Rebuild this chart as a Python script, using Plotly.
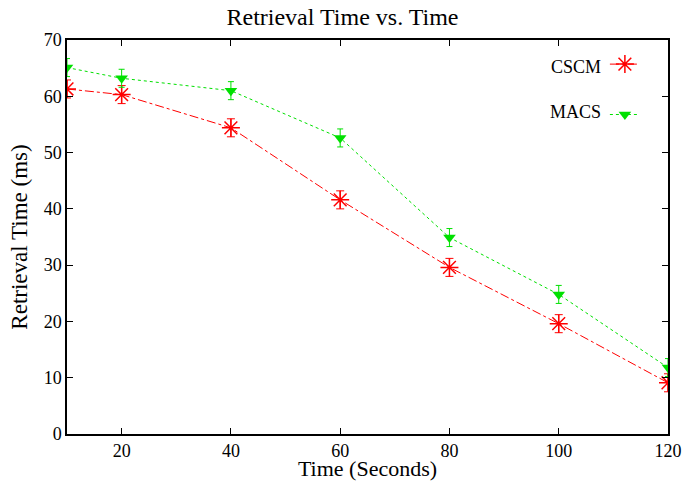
import plotly.graph_objects as go

x_seconds = [10, 20, 40, 60, 80, 100, 120]
cscm_ms = [61.3, 60.3, 54.4, 41.6, 29.6, 19.6, 9.1]
cscm_err = [1.6, 1.6, 1.6, 1.6, 1.6, 1.6, 1.6]
macs_ms = [65.1, 63.2, 61.0, 52.6, 34.9, 24.8, 11.8]
macs_err = [1.6, 1.6, 1.6, 1.6, 1.6, 1.6, 1.6]
x_ticks = [20, 40, 60, 80, 100, 120]
y_ticks = [0, 10, 20, 30, 40, 50, 60, 70]

FONT = "Liberation Serif"
RED = "#ff0000"
GREEN = "#00e000"

fig = go.Figure()
fig.add_trace(go.Scatter(
    x=x_seconds, y=cscm_ms, name="", legendgroup="a", mode="lines+markers",
    line=dict(color=RED, width=1, dash="dashdot"),
    marker=dict(symbol="asterisk-open", size=15, color=RED, line=dict(color=RED, width=1.5)),
    error_y=dict(type="data", array=cscm_err, color=RED, thickness=1, width=4),
))
fig.add_trace(go.Scatter(
    x=x_seconds, y=macs_ms, name="", legendgroup="b", mode="lines+markers",
    line=dict(color=GREEN, width=1, dash="dot"),
    marker=dict(symbol="triangle-down", size=11, color=GREEN),
    error_y=dict(type="data", array=macs_err, color=GREEN, thickness=1, width=3),
))

fig.add_annotation(text="CSCM", xref="paper", yref="paper", x=0.892, y=0.932,
                   xanchor="right", yanchor="middle", showarrow=False,
                   font=dict(family=FONT, size=18, color="black"))
fig.add_annotation(text="MACS", xref="paper", yref="paper", x=0.892, y=0.818,
                   xanchor="right", yanchor="middle", showarrow=False,
                   font=dict(family=FONT, size=18, color="black"))

axis_common = dict(showline=True, linecolor="black", linewidth=1.5, mirror="allticks",
                   ticks="inside", ticklen=6, tickcolor="black", showgrid=False,
                   zeroline=False, automargin=False,
                   tickfont=dict(family=FONT, size=18, color="black"))

fig.update_layout(
    width=685, height=481,
    margin=dict(l=67, r=17, t=40, b=47),
    paper_bgcolor="white", plot_bgcolor="white",
    title=dict(text="Retrieval Time vs. Time", x=0.5, xanchor="center", y=0.965, yanchor="middle",
               font=dict(family=FONT, size=24, color="black")),
    xaxis=dict(range=[10, 120], tickvals=x_ticks,
               title=dict(text="Time (Seconds)", standoff=0, font=dict(family=FONT, size=22, color="black")),
               **axis_common),
    yaxis=dict(range=[0, 70], tickvals=y_ticks,
               title=dict(text="Retrieval Time (ms)", standoff=10, font=dict(family=FONT, size=23, color="black")),
               **axis_common),
    showlegend=True,
    legend=dict(x=0.895, y=0.985, xanchor="left", yanchor="top", bgcolor="rgba(0,0,0,0)",
                tracegroupgap=24, itemwidth=30, font=dict(family=FONT, size=18)),
)

fig.write_html("out.html", config={"displayModeBar": False},
               post_script="document.body.style.margin='0';")
